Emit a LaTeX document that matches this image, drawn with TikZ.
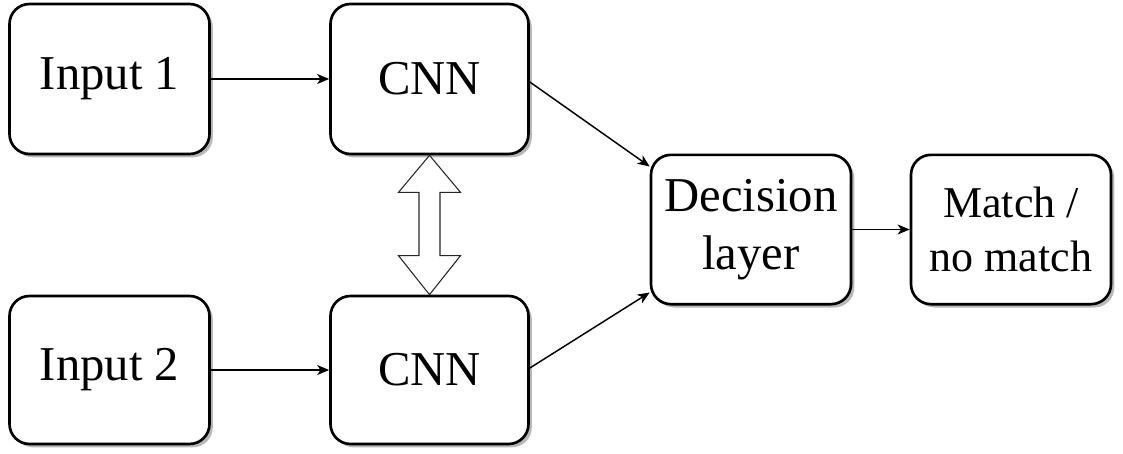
\documentclass[tikz,border=0pt]{standalone}
\usepackage{fontspec}
\setmainfont{Liberation Serif}
\usetikzlibrary{arrows.meta,shadows,calc}
\begin{document}
\begin{tikzpicture}[x=0.75pt,y=-0.75pt,
  box/.style={draw=black, line width=2pt, rounded corners=15pt, fill=white,
    drop shadow={shadow xshift=2.5pt, shadow yshift=-2.5pt, fill=black, opacity=0.28},
    align=center, inner sep=0pt},
  bigtxt/.style={font=\fontsize{36.5}{43.5}\selectfont},
  smalltxt/.style={font=\fontsize{33}{40}\selectfont},
  link/.style={line width=1.1pt, -{Stealth[length=9pt,width=7.5pt,inset=2.5pt]}},
  share/.style={draw=black!85, line width=0.8pt, fill=white, line join=miter}]
\useasboundingbox (0,0) rectangle (1123,453);

% boxes
\node[box, bigtxt, minimum width=150pt, minimum height=112.5pt] (in1) at (109.5,79) {Input 1};
\node[box, bigtxt, minimum width=148.5pt, minimum height=112.5pt] (cnn1) at (429.5,79) {CNN};
\node[box, bigtxt, minimum width=150pt, minimum height=111pt] (in2) at (109.5,370) {Input 2};
\node[box, bigtxt, minimum width=148.5pt, minimum height=111pt] (cnn2) at (429.5,370) {CNN};
\node[box, bigtxt, minimum width=150pt, minimum height=112pt] (dec) at (751,229.5) {Decision\\layer};
\node[box, smalltxt, minimum width=150pt, minimum height=112pt] (out) at (1011,229.5) {Match /\\no match};

% connectors
\draw[link] (in1.east) -- (cnn1.west);
\draw[link] (in2.east) -- (cnn2.west);
\draw[link] ($(cnn1.east)+(0,3)$) -- ($(dec.north west)+(0,13)$);
\draw[link] ($(cnn2.east)+(0,-2)$) -- ($(dec.south west)+(0,-13)$);
\draw[link] (dec.east) -- (out.west);

% shared-weights double arrow between the two CNNs
\coordinate (ta) at (cnn1.south);
\coordinate (tb) at (cnn2.north);
\draw[share] (ta) -- ($(ta)+(31,37)$) -- ($(ta)+(10.5,37)$) -- ($(tb)+(10.5,-39)$)
  -- ($(tb)+(31,-39)$) -- (tb) -- ($(tb)+(-31,-39)$) -- ($(tb)+(-10.5,-39)$)
  -- ($(ta)+(-10.5,37)$) -- ($(ta)+(-31,37)$) -- cycle;
\end{tikzpicture}
\end{document}
